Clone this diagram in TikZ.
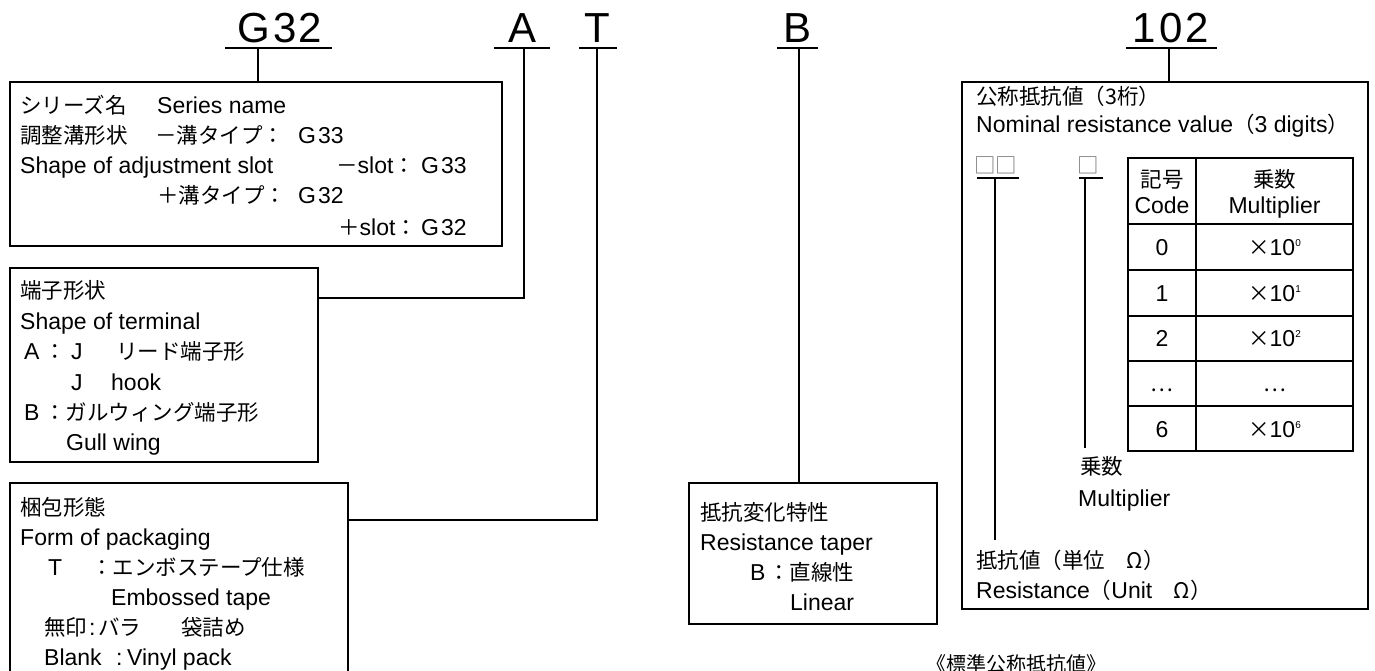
\documentclass[tikz,border=0pt]{standalone}
\usepackage{fontspec}
\setmainfont{Liberation Sans}
\newfontfamily\jpfont{Noto Sans CJK JP}
\newcommand\jt[1]{{\jpfont\fontsize{21.5}{26}\selectfont #1}}
\newcommand\sps[1]{\raisebox{9pt}{\fontsize{10}{10}\selectfont #1}}
\begin{document}
\begin{tikzpicture}[x=1pt,y=-1pt,
  lbl/.style={anchor=base west,inner sep=0pt,font=\fontsize{23}{28}\selectfont},
  cell/.style={anchor=base,inner sep=0pt,font=\fontsize{23}{28}\selectfont},
  big/.style={anchor=base,inner sep=0pt,font=\fontsize{42}{42}\selectfont},
  boxn/.style={draw,line width=1.4pt,inner sep=0pt,fill=none},
  ln/.style={line width=1.4pt}]
\useasboundingbox (0,0) rectangle (1375,671);
% top labels
\node[big] (lG) at (280,43) {G\kern3pt 3\kern2pt 2};
\node[big] (lA) at (522,43) {A};
\node[big] (lT) at (597,43) {T};
\node[big] (lB) at (797,43) {B};
\node[big] (l102) at (1171,43) {1\kern3pt 0\kern3pt 2};
\coordinate (uG1) at (225,48); \coordinate (uG2) at (332,48);
\coordinate (uA1) at (494,48); \coordinate (uA2) at (550,48);
\coordinate (uT1) at (579,48); \coordinate (uT2) at (617,48);
\coordinate (uB1) at (777,48); \coordinate (uB2) at (818,48);
\coordinate (u11) at (1126,48); \coordinate (u12) at (1217,48);
\draw[ln] (uG1) -- (uG2); \draw[ln] (uA1) -- (uA2); \draw[ln] (uT1) -- (uT2);
\draw[ln] (uB1) -- (uB2); \draw[ln] (u11) -- (u12);
% boxes
\node[boxn,minimum width=492pt,minimum height=164pt] (box1) at (256,164) {};
\node[boxn,minimum width=308pt,minimum height=194pt] (box2) at (164,365) {};
\node[boxn,minimum width=338pt,minimum height=217pt] (box3) at (179,591.5) {};
\node[boxn,minimum width=248pt,minimum height=141pt] (box4) at (813,553.5) {};
\node[boxn,minimum width=406pt,minimum height=527pt] (box5) at (1165,345.5) {};
% connectors
\coordinate (cG) at (258,48);
\coordinate (cA) at (524,48);
\coordinate (cT) at (597,48);
\coordinate (cB) at (799,48);
\coordinate (c1) at (1169,48);
\coordinate (eA) at (318,298);
\coordinate (eT) at (348,520);
\draw[ln] (cG) -- (cG |- box1.north);
\draw[ln] (cA) |- (eA);
\draw[ln] (cT) |- (eT);
\draw[ln] (cB) -- (cB |- box4.north);
\draw[ln] (c1) -- (c1 |- box5.north);
% box1 text
\node[lbl] (a1) at (20,114) {\jt{シリーズ名}};
\node[lbl] (a2) at (157,114) {Series name};
\node[lbl] (a3) at (20,144) {\jt{調整溝形状}};
\node[lbl] (a4) at (155,144) {\jt{－溝タイプ：}};
\node[lbl] (a5) at (298,144) {G\kern2pt 33};
\node[lbl] (a6) at (20,174) {Shape of adjustment slot};
\node[lbl] (a7) at (336,174) {\jt{－}slot\jt{：}};
\node[lbl] (a8) at (421,174) {G\kern2pt 33};
\node[lbl] (a9) at (157,204) {\jt{＋溝タイプ：}};
\node[lbl] (a10) at (298,204) {G\kern2pt 32};
\node[lbl] (a11) at (338,235) {\jt{＋}slot\jt{：}};
\node[lbl] (a12) at (421,235) {G\kern2pt 32};
% box2 text
\node[lbl] (b1) at (20,298) {\jt{端子形状}};
\node[lbl] (b2) at (20,329) {Shape of terminal};
\node[lbl] (b3) at (24,359) {A};
\node[lbl] (b4) at (44,359) {\jt{：}};
\node[lbl] (b5) at (71,359) {J};
\node[lbl] (b6) at (116,359) {\jt{リード端子形}};
\node[lbl] (b7) at (71,390) {J};
\node[lbl] (b8) at (111,390) {hook};
\node[lbl] (b9) at (24,420) {B};
\node[lbl] (b10) at (44,420) {\jt{：ガルウィング端子形}};
\node[lbl] (b11) at (66,450) {Gull wing};
% box3 text
\node[lbl] (p1) at (20,515) {\jt{梱包形態}};
\node[lbl] (p2) at (20,545) {Form of packaging};
\node[lbl] (p3) at (48,575) {T};
\node[lbl] (p4) at (91,575) {\jt{：エンボステープ仕様}};
\node[lbl] (p5) at (111,605) {Embossed tape};
\node[lbl] (p6) at (44,635) {\jt{無印}};
\node[lbl] (p7) at (89,635) {:};
\node[lbl] (p8) at (98,635) {\jt{バラ}};
\node[lbl] (p9) at (181,635) {\jt{袋詰め}};
\node[lbl] (p10) at (44,665) {Blank};
\node[lbl] (p11) at (116,665) {:};
\node[lbl] (p12) at (127,665) {Vinyl pack};
% box4 text
\node[lbl] (r1) at (700,520) {\jt{抵抗変化特性}};
\node[lbl] (r2) at (700,550) {Resistance taper};
\node[lbl] (r3) at (750,580) {B};
\node[lbl] (r4) at (768,580) {\jt{：直線性}};
\node[lbl] (r5) at (790,610) {Linear};
% box5 text
\node[lbl] (n1) at (976,105) {\jt{公称抵抗値（3桁）}};
\node[lbl] (n2) at (976,133) {Nominal resistance value\jt{（}3 digits\jt{）}};
\node[lbl,text=black!55] (sq1) at (974,174) {\jt{□□}};
\node[lbl,text=black!55] (sq2) at (1077,174) {\jt{□}};
\coordinate (s1a) at (977,178); \coordinate (s1b) at (1019,178);
\coordinate (s2a) at (1079,178); \coordinate (s2b) at (1103,178);
\draw[ln] (s1a) -- (s1b); \draw[ln] (s2a) -- (s2b);
\coordinate (v1) at (995,178); \coordinate (v1e) at (995,540);
\coordinate (v2) at (1085,178); \coordinate (v2e) at (1085,448);
\draw[ln] (v1) -- (v1e); \draw[ln] (v2) -- (v2e);
\node[lbl] (m1) at (1080,474) {\jt{乗数}};
\node[lbl] (m2) at (1078,506) {Multiplier};
\node[lbl] (m3) at (976,568) {\jt{抵抗値（単位　Ω）}};
\node[lbl] (m4) at (976,598) {Resistance\jt{（}Unit\jt{　Ω）}};
% table
\draw[ln] (1128,158) rectangle (1353,451);
\draw[ln] (1196,158) -- (1196,451);
\foreach \yy in {224,270,316,361,406} \draw[ln] (1128,\yy) -- (1353,\yy);
\node[cell] (h1) at (1162,188) {\jt{記号}};
\node[cell] (h2) at (1162,213) {Code};
\node[cell] (h3) at (1274.5,188) {\jt{乗数}};
\node[cell] (h4) at (1274.5,213) {Multiplier};
\node[cell] (k0) at (1162,255) {0};
\node[cell] (x0) at (1274.5,255) {\jt{×}10\sps{0}};
\node[cell] (k1) at (1162,301) {1};
\node[cell] (x1) at (1274.5,301) {\jt{×}10\sps{1}};
\node[cell] (k2) at (1162,346) {2};
\node[cell] (x2) at (1274.5,346) {\jt{×}10\sps{2}};
\node[cell] (k3) at (1162,391) {\jt{…}};
\node[cell] (x3) at (1274.5,391) {\jt{…}};
\node[cell] (k6) at (1162,437) {6};
\node[cell] (x6) at (1274.5,437) {\jt{×}10\sps{6}};
% caption
\node[anchor=base,inner sep=0pt,font=\jpfont\fontsize{20}{24}\selectfont] (cap) at (1016,671) {《標準公称抵抗値》};
\end{tikzpicture}
\end{document}
